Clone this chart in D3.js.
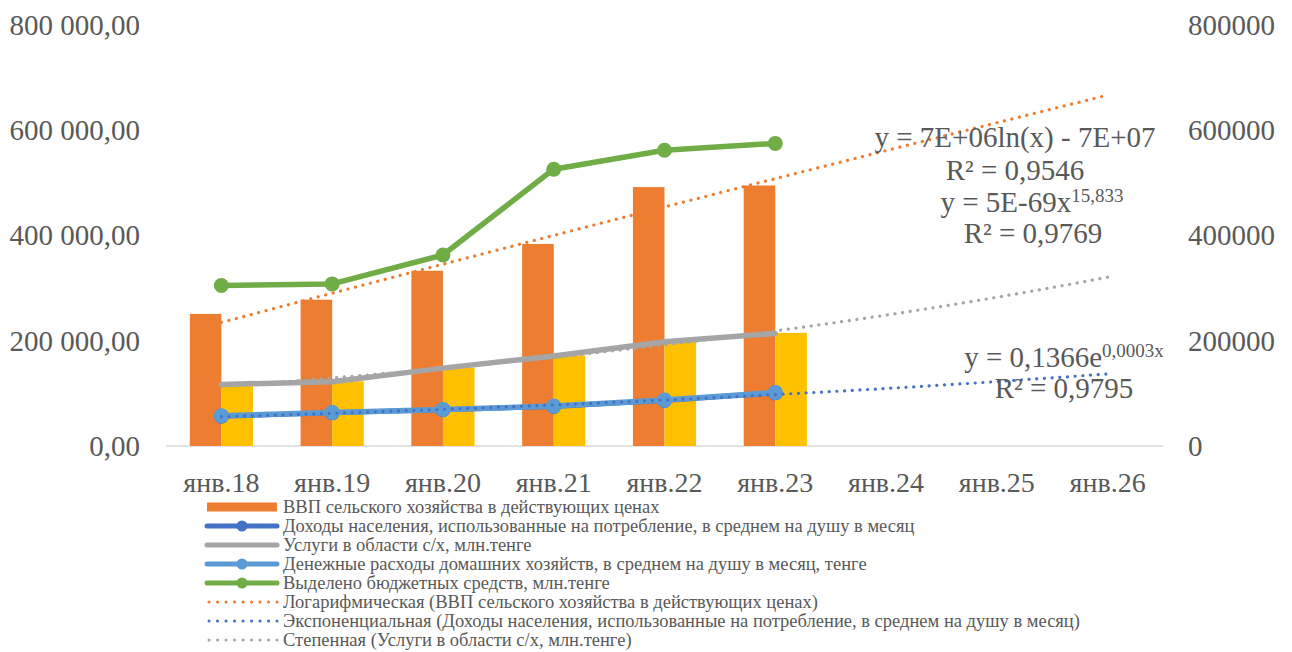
<!DOCTYPE html>
<html><head><meta charset="utf-8">
<script src="https://cdn.jsdelivr.net/npm/d3@7"></script>
<style>
html,body{margin:0;padding:0;background:#fff;}
</style></head>
<body><svg id="c" width="1292" height="652" font-family="Liberation Serif, DejaVu Serif, serif"></svg>
<script>
// ---- data ----
const categories = ["янв.18","янв.19","янв.20","янв.21","янв.22","янв.23","янв.24","янв.25","янв.26"];
const dateSerials = [43101,43466,43831,44197,44562,44927,45292,45658,46023];
const vvp = [251000, 278000, 333000, 384000, 492000, 495000];          // ВВП сельского хозяйства (bars)
const uslugiBars = [115000, 123000, 149000, 172000, 198000, 215000];   // yellow bars
const dohody = [56500, 63000, 69000, 75000, 86500, 101000];            // Доходы населения
const uslugi = [117000, 122000, 148000, 171000, 198000, 214000];        // Услуги в области с/х
const rashody = [57500, 63800, 69500, 75800, 87200, 101800];           // Денежные расходы
const byudzhet = [305000, 308000, 363000, 526000, 562000, 575000];     // Выделено бюджетных средств
const leftTicks = [0, 200000, 400000, 600000, 800000];
const rightTicks = [0, 200000, 400000, 600000, 800000];
const legendItems = [
 {name:"ВВП сельского хозяйства в действующих ценах", type:"bar", color:"#ED7D31"},
 {name:"Доходы населения, использованные на потребление, в среднем на душу в месяц", type:"lineMarker", color:"#4472C4"},
 {name:"Услуги в области с/х, млн.тенге", type:"line", color:"#A5A5A5"},
 {name:"Денежные расходы домашних хозяйств, в среднем на душу в месяц, тенге", type:"lineMarker", color:"#5B9BD5"},
 {name:"Выделено бюджетных средств, млн.тенге", type:"lineMarker", color:"#70AD47"},
 {name:"Логарифмическая (ВВП сельского хозяйства в действующих ценах)", type:"dot", color:"#ED7D31"},
 {name:"Экспоненциальная (Доходы населения, использованные на потребление, в среднем на душу в месяц)", type:"dot", color:"#4472C4"},
 {name:"Степенная (Услуги в области с/х, млн.тенге)", type:"dot", color:"#A5A5A5"}
];

// ---- layout ----
const FONT = "Liberation Serif, DejaVu Serif, serif";
const TXT = "#595959";
const svg = d3.select("#c");
const pL = 166, pR = 1163, pT = 25, pB = 446;
const x = d3.scaleBand().domain(categories).range([pL, pR]).padding(0);
const bw = x.bandwidth();
const xs = d3.scaleBand().domain(["vvp","usl"]).range([bw*0.215, bw*0.785]).padding(0);
const y = d3.scaleLinear().domain([0, 800000]).range([pB, pT]);
const y2 = d3.scaleLinear().domain([0, 800000]).range([pB, pT]);
const cx = i => x(categories[i]) + bw/2;

// axis line
svg.append("line").attr("x1", pL).attr("x2", pR).attr("y1", pB).attr("y2", pB)
  .attr("stroke", "#D9D9D9").attr("stroke-width", 1.3);

function styleAxis(g, size) {
  g.attr("font-family", FONT).attr("font-size", size);
  g.select(".domain").remove();
  g.selectAll("text").attr("fill", TXT);
}
// left axis labels
const fmtL = v => d3.format(",.2f")(v).replace(/,/g, " ").replace(".", ",");
svg.append("g").attr("transform", `translate(140,0)`)
  .call(d3.axisLeft(y).tickValues(leftTicks).tickSize(0).tickPadding(0).tickFormat(fmtL))
  .call(g => styleAxis(g, 29));
svg.append("g").attr("transform", `translate(1188,0)`)
  .call(d3.axisRight(y2).tickValues(rightTicks).tickSize(0).tickPadding(0).tickFormat(d3.format("d")))
  .call(g => styleAxis(g, 29));
// category labels
svg.append("g").attr("transform", `translate(0,${pB + 26})`)
  .call(d3.axisBottom(x).tickSize(0).tickPadding(0))
  .call(g => styleAxis(g, 28));

// bars
svg.append("g").selectAll("rect").data(vvp).join("rect")
  .attr("x", (d,i) => x(categories[i]) + xs("vvp")).attr("width", xs.bandwidth())
  .attr("y", d => y(d)).attr("height", d => pB - y(d)).attr("fill", "#ED7D31");
svg.append("g").selectAll("rect").data(uslugiBars).join("rect")
  .attr("x", (d,i) => x(categories[i]) + xs("usl")).attr("width", xs.bandwidth())
  .attr("y", d => y2(d)).attr("height", d => pB - y2(d)).attr("fill", "#FFC000");

// lines
const line = (sc) => d3.line().x((d,i) => cx(i)).y(d => sc(d));
function drawLine(data, sc, color, w, markerR) {
  svg.append("path").datum(data).attr("d", line(sc)).attr("fill", "none")
    .attr("stroke", color).attr("stroke-width", w).attr("stroke-linejoin", "round").attr("stroke-linecap", "round");
  if (markerR) svg.append("g").selectAll("circle").data(data).join("circle")
    .attr("cx", (d,i) => cx(i)).attr("cy", d => sc(d)).attr("r", markerR).attr("fill", color);
}
drawLine(dohody, y2, "#4472C4", 5, 7.5);
drawLine(uslugi, y2, "#A5A5A5", 5.5, 0);
drawLine(rashody, y2, "#5B9BD5", 5.5, 7.5);
drawLine(byudzhet, y2, "#70AD47", 5.5, 7.5);

// ---- trendlines (least squares on date serials) ----
function linfit(xv, yv) {
  const n = xv.length, mx = d3.mean(xv), my = d3.mean(yv);
  let sxy = 0, sxx = 0;
  for (let i = 0; i < n; i++) { sxy += (xv[i]-mx)*(yv[i]-my); sxx += (xv[i]-mx)**2; }
  const b = sxy/sxx; return {a: my - b*mx, b};
}
const xd = dateSerials.slice(0, 6);
const logFit = linfit(xd.map(Math.log), vvp);
const expFit = linfit(xd, dohody.map(Math.log));
const powFit = linfit(xd.map(Math.log), uslugi.map(Math.log));
const ts = d3.range(0, 8.001, 0.1);
const serialAt = t => { const i = Math.min(Math.floor(t), 7), f = t - i; return dateSerials[i] + f*(dateSerials[i+1]-dateSerials[i]); };
const xAt = t => x(categories[0]) + bw/2 + t*bw;
function trend(fn, sc, color) {
  svg.append("path").datum(ts).attr("fill", "none")
    .attr("d", d3.line().x(t => xAt(t)).y(t => sc(fn(serialAt(t)))))
    .attr("stroke", color).attr("stroke-width", 3.2).attr("stroke-linecap", "round")
    .attr("stroke-dasharray", "0.1 7.6");
}
trend(s => logFit.a + logFit.b*Math.log(s), y, "#ED7D31");
trend(s => Math.exp(expFit.a + expFit.b*s), y2, "#4472C4");
trend(s => Math.exp(powFit.a + powFit.b*Math.log(s)), y2, "#A5A5A5");

// equation labels
const eq = svg.append("g").attr("font-size", 29).attr("text-anchor", "middle").attr("fill", TXT);
function eqText(xc, yc, parts) {
  const t = eq.append("text").attr("x", xc).attr("y", yc).attr("dy", "0.35em");
  parts.forEach(p => {
    const s = t.append("tspan").text(p.t);
    if (p.sup) s.attr("font-size", 19).attr("dy", "-0.55em");
  });
}
eqText(1015, 137, [{t:"y = 7E+06ln(x) - 7E+07"}]);
eqText(1015, 170, [{t:"R² = 0,9546"}]);
eqText(1032, 202, [{t:"y = 5E-69x"},{t:"15,833", sup:true}]);
eqText(1033, 233, [{t:"R² = 0,9769"}]);
eqText(1064, 357, [{t:"y = 0,1366e"},{t:"0,0003x", sup:true}]);
eqText(1064, 388, [{t:"R² = 0,9795"}]);

// legend
const lg = svg.append("g");
const lx0 = 207, lx1 = 277, ly0 = 507, lstep = 19;
legendItems.forEach((it, i) => {
  const yy = ly0 + i*lstep;
  if (it.type === "bar") lg.append("rect").attr("x", lx0).attr("y", yy-4.5).attr("width", lx1-lx0).attr("height", 9).attr("fill", it.color);
  else if (it.type === "dot") lg.append("line").attr("x1", lx0+2).attr("x2", lx1).attr("y1", yy).attr("y2", yy)
    .attr("stroke", it.color).attr("stroke-width", 3).attr("stroke-linecap", "round").attr("stroke-dasharray", "0.1 8.4");
  else {
    lg.append("line").attr("x1", lx0).attr("x2", lx1).attr("y1", yy).attr("y2", yy)
      .attr("stroke", it.color).attr("stroke-width", 5).attr("stroke-linecap", "round");
    if (it.type === "lineMarker") lg.append("circle").attr("cx", (lx0+lx1)/2).attr("cy", yy).attr("r", 5.5).attr("fill", it.color);
  }
  lg.append("text").attr("x", 283).attr("y", yy).attr("dy", "0.35em").attr("font-size", 18.5).attr("fill", TXT).text(it.name);
});
</script></body></html>
